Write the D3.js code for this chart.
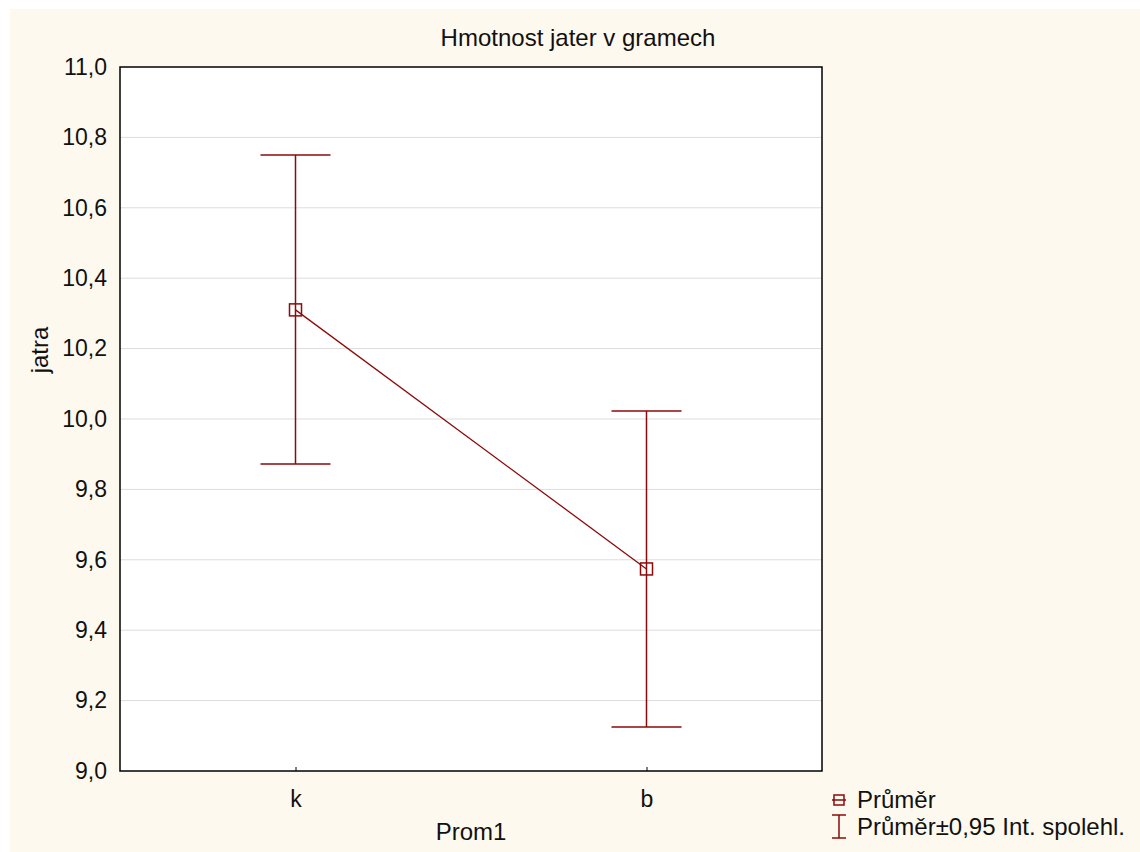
<!DOCTYPE html>
<html>
<head>
<meta charset="utf-8">
<script src="https://cdn.jsdelivr.net/npm/d3@7"></script>
<style>
  body { margin: 0; background: #fff; }
  text { font-family: "Liberation Sans", Arial, sans-serif; fill: #111; }
</style>
</head>
<body>
<div class="chart_container"></div>
<script>
// data
var categories = ["k", "b"];
var means = [10.31, 9.574];
var upper = [10.75, 10.023];
var lower = [9.872, 9.125];
var yTicks = [9.0, 9.2, 9.4, 9.6, 9.8, 10.0, 10.2, 10.4, 10.6, 10.8, 11.0];

var W = 1140, H = 852;
var margin = {top: 67, right: 318, bottom: 81, left: 120};
var width = W - margin.left - margin.right,
    height = H - margin.top - margin.bottom;
var red = "#8b0a0a";
var fs = 23;
var fmt = function(d){ return d3.format(".1f")(d).replace(".", ","); };

var svg = d3.select(".chart_container").append("svg")
    .attr("width", W).attr("height", H);

svg.append("rect").attr("x", 10).attr("y", 9)
    .attr("width", W - 10).attr("height", H - 9)
    .attr("fill", "#fef9ef");

var g = svg.append("g").attr("transform", "translate(" + margin.left + "," + margin.top + ")");

var x = d3.scalePoint().domain(categories).range([0, width]).padding(0.5);
var y = d3.scaleLinear().domain([9, 11]).range([height, 0]);

g.append("rect").attr("width", width).attr("height", height).attr("fill", "#fff");

// gridlines
g.append("g").selectAll("line").data(yTicks.slice(1, -1)).enter().append("line")
    .attr("x1", 0).attr("x2", width)
    .attr("y1", function(d){ return y(d); }).attr("y2", function(d){ return y(d); })
    .attr("stroke", "#dcdcdc").attr("stroke-width", 1);

// axes
var yAxis = g.append("g")
    .call(d3.axisLeft(y).tickValues(yTicks).tickFormat(fmt).tickSize(0).tickPadding(13));
yAxis.select(".domain").remove();
yAxis.selectAll("text").attr("font-size", fs).attr("font-family", "Liberation Sans, Arial, sans-serif").attr("fill", "#111");

var xAxis = g.append("g").attr("transform", "translate(0," + height + ")")
    .call(d3.axisBottom(x).tickSizeInner(-4).tickSizeOuter(0).tickPadding(20));
xAxis.select(".domain").remove();
xAxis.selectAll("line").attr("stroke", "#000");
xAxis.selectAll("text").attr("font-size", fs).attr("font-family", "Liberation Sans, Arial, sans-serif").attr("fill", "#111");

// frame
g.append("rect").attr("width", width).attr("height", height)
    .attr("fill", "none").attr("stroke", "#000").attr("stroke-width", 1.5);

// error bars
var bars = g.selectAll(".err").data(categories).enter().append("g").attr("class", "err");
bars.append("line")
    .attr("x1", function(d){ return x(d); }).attr("x2", function(d){ return x(d); })
    .attr("y1", function(d, i){ return y(upper[i]); }).attr("y2", function(d, i){ return y(lower[i]); })
    .attr("stroke", red).attr("stroke-width", 1.5);
[upper, lower].forEach(function(arr){
  bars.append("line")
      .attr("x1", function(d){ return x(d) - 35; }).attr("x2", function(d){ return x(d) + 35; })
      .attr("y1", function(d, i){ return y(arr[i]); }).attr("y2", function(d, i){ return y(arr[i]); })
      .attr("stroke", red).attr("stroke-width", 1.5);
});

// mean line
g.append("path")
    .datum(categories)
    .attr("d", d3.line().x(function(d){ return x(d); }).y(function(d, i){ return y(means[i]); }))
    .attr("fill", "none").attr("stroke", red).attr("stroke-width", 1.3);

g.selectAll(".mk").data(categories).enter().append("rect")
    .attr("x", function(d){ return x(d) - 6; })
    .attr("y", function(d, i){ return y(means[i]) - 6; })
    .attr("width", 12).attr("height", 12)
    .attr("fill", "none").attr("stroke", red).attr("stroke-width", 1.5);

// titles
svg.append("text").attr("x", 578).attr("y", 46).attr("text-anchor", "middle")
    .attr("font-size", 24).text("Hmotnost jater v gramech");
svg.append("text").attr("x", margin.left + width / 2).attr("y", 840).attr("text-anchor", "middle")
    .attr("font-size", 24).text("Prom1");
svg.append("text").attr("transform", "translate(48,350) rotate(-90)").attr("text-anchor", "middle")
    .attr("font-size", 24).text("jatra");

// legend
var lg = svg.append("g").attr("transform", "translate(839,0)");
lg.append("line").attr("x1", -7).attr("x2", 7).attr("y1", 800).attr("y2", 800).attr("stroke", red).attr("stroke-width", 1.5);
lg.append("rect").attr("x", -5).attr("y", 795).attr("width", 10).attr("height", 10)
    .attr("fill", "none").attr("stroke", red).attr("stroke-width", 1.5);
lg.append("text").attr("x", 18).attr("y", 808).attr("font-size", 24).text("Průměr");
lg.append("line").attr("x1", 0).attr("x2", 0).attr("y1", 815).attr("y2", 838).attr("stroke", red).attr("stroke-width", 1.5);
lg.append("line").attr("x1", -7).attr("x2", 7).attr("y1", 815).attr("y2", 815).attr("stroke", red).attr("stroke-width", 1.5);
lg.append("line").attr("x1", -7).attr("x2", 7).attr("y1", 838).attr("y2", 838).attr("stroke", red).attr("stroke-width", 1.5);
lg.append("text").attr("x", 18).attr("y", 835).attr("font-size", 24).text("Průměr±0,95 Int. spolehl.");
</script>
</body>
</html>
